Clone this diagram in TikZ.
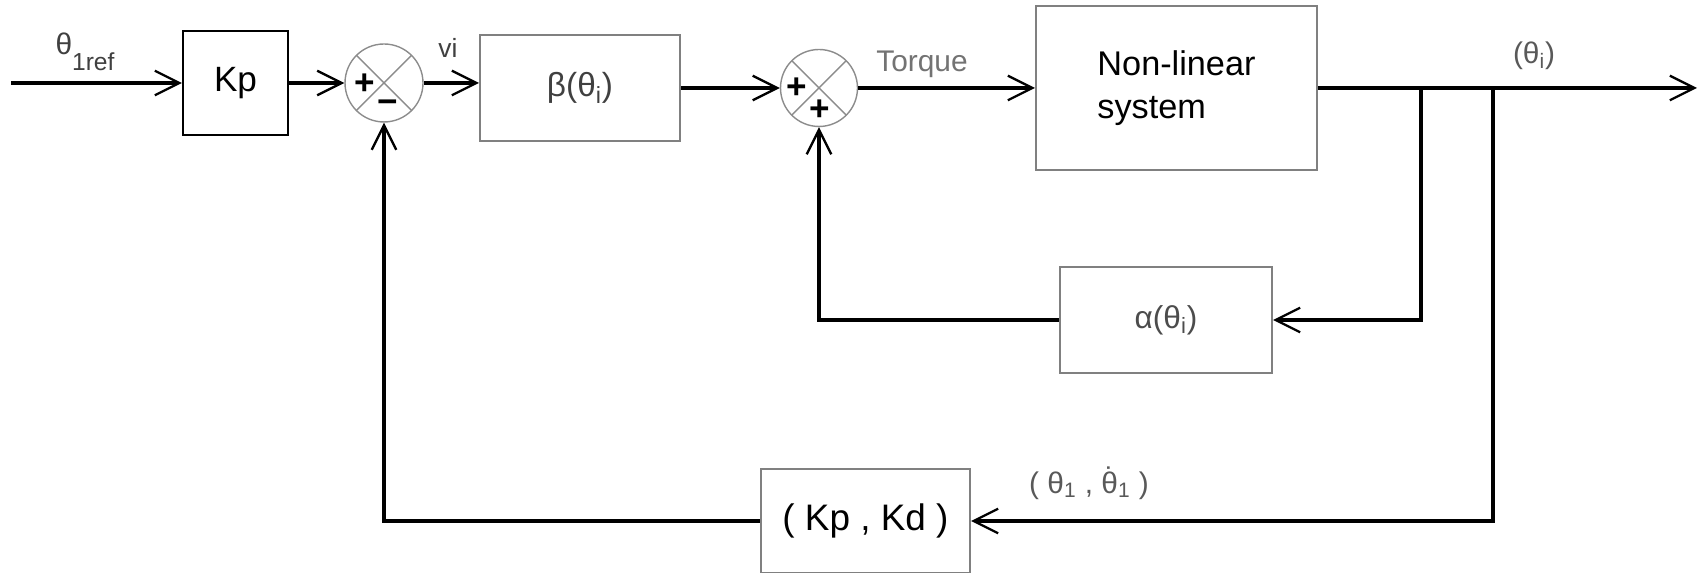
\documentclass[tikz,border=0pt]{standalone}
\usepackage{fontspec}
\setmainfont{Liberation Sans}
\usetikzlibrary{arrows.meta,calc}

\begin{document}
\begin{tikzpicture}[x=0.02cm,y=0.02cm,
  signal/.style={line width=2pt,-{Straight Barb[length=14pt,width=14pt,line width=1.3pt]}},
  block/.style={draw=black!50,line width=1.2pt,inner sep=0pt,align=center},
  sumnode/.style={circle,draw=black!45,line width=0.8pt,inner sep=0pt,minimum size=1.56cm,
    path picture={\draw[black!45,line width=0.8pt]
      (path picture bounding box.north west) -- (path picture bounding box.south east)
      (path picture bounding box.north east) -- (path picture bounding box.south west);}},
  sign/.style={font=\fontsize{20}{20}\selectfont\bfseries,inner sep=0pt},
  lbl/.style={text=black!75,inner sep=0pt}]
  \useasboundingbox (0,0) rectangle (1698,573);

  % blocks
  \node[block,draw=black,minimum width=2.1cm,minimum height=2.08cm,
        font=\fontsize{20}{24}\selectfont] (kp) at (235.5,490) {Kp};
  \node[sumnode] (s1) at (384,490) {};
  \node[block,minimum width=4cm,minimum height=2.12cm,text=black!75,
        font=\fontsize{19}{23}\selectfont] (beta) at (580,485) {β(θ\textsubscript{i})};
  \node[sumnode,minimum size=1.54cm] (s2) at (819,485) {};
  \node[block,minimum width=5.62cm,minimum height=3.28cm,align=left,
        font=\fontsize{19.5}{24.4}\selectfont] (nl) at (1176.5,485) {Non-linear\\system};
  \node[block,minimum width=4.24cm,minimum height=2.12cm,text=black!70,
        font=\fontsize{18}{22}\selectfont] (alpha) at (1166,253) {α(θ\textsubscript{i})};
  \node[block,minimum width=4.18cm,minimum height=2.08cm,
        font=\fontsize{21}{25}\selectfont] (kpkd) at (865.5,52) {( Kp , Kd )};

  % signs in the summing junctions
  \node[sign] (s1a) at ($(s1)+(-19,-1)$) {+};
  \node[sign] (s1b) at ($(s1)+(4,-24)$) {−};
  \node[sign] (s2a) at ($(s2)+(-22,0)$) {+};
  \node[sign] (s2b) at ($(s2)+(1,-22)$) {+};

  % branch points
  \coordinate (in) at (11,490);
  \coordinate (out) at (1697,485);
  \coordinate (b1) at (1421,485);
  \coordinate (b2) at (1493,485);

  % forward path
  \draw[signal] (in) -- (kp);
  \draw[signal] (kp) -- (s1);
  \draw[signal] (s1.east) -- (s1.east -| beta.west);
  \draw[signal] (beta) -- (s2);
  \draw[signal] (s2) -- (nl);
  \draw[signal] (nl) -- (out);

  % feedback paths
  \draw[signal] (b1) |- (alpha.east);
  \draw[signal] (alpha.west) -| (s2.south);
  \draw[signal] (b2) |- (kpkd.east);
  \draw[signal] (kpkd.west) -| (s1.south);

  % labels
  \node[lbl,font=\fontsize{17}{17}\selectfont] (ref) at (85,521)
    {θ\raisebox{-0.55em}{\fontsize{14}{14}\selectfont 1ref}};
  \node[lbl,font=\fontsize{15}{15}\selectfont] (vi) at (448,525) {vi};
  \node[lbl,text=black!55,font=\fontsize{17}{17}\selectfont] (torque) at (922,509) {Torque};
  \node[lbl,text=black!65,font=\fontsize{17}{17}\selectfont] (thi) at (1534,517) {(θ\textsubscript{i})};
  \node[lbl,text=black!65,font=\fontsize{17}{17}\selectfont] (thd) at (1089,90)
    {( θ\textsubscript{1} , \accent"02D9 θ\textsubscript{1} )};
\end{tikzpicture}
\end{document}
